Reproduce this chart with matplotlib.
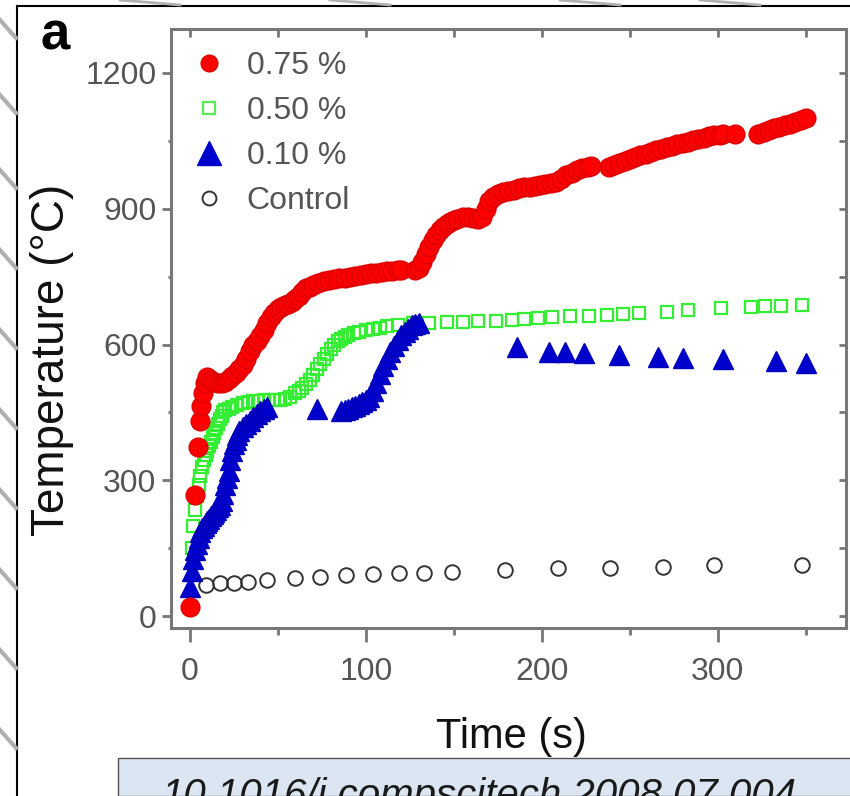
import matplotlib
matplotlib.use("Agg")
import matplotlib.pyplot as plt
from matplotlib.lines import Line2D
from matplotlib.patches import Rectangle

plt.rcParams['font.family'] = ['Liberation Sans', 'DejaVu Sans']

# 0.75 % loading
red_t = [0, 2.8, 4.5, 5.5, 6.5, 7.5, 8.5, 10, 12, 14, 16, 18, 20, 22, 24, 26, 28, 30,
         32, 34, 36, 38, 40, 42, 44, 46, 48, 50, 52, 54, 56, 58, 60, 62, 64, 66, 68, 70,
         73, 76, 79, 82, 85, 88, 91, 94, 97, 100, 103, 106, 109, 112, 115, 118, 120,
         128, 130, 132, 134, 136, 138, 140, 142, 144, 146, 148, 150, 152, 155, 158, 161,
         164, 166, 168, 170, 172, 175, 178, 181, 184, 187, 190, 193, 196, 199, 202, 205,
         208, 211, 214, 217, 220, 223, 226, 228, 238, 241, 244, 247, 250, 253, 256, 259,
         262, 265, 268, 271, 274, 277, 280, 283, 286, 289, 292, 295, 298, 301, 303, 310,
         323, 326, 329, 332, 335, 338, 341, 344, 347, 350]
red_v = [20, 267, 374, 432, 465, 492, 515, 528, 522, 518, 516, 516, 518, 524, 530, 538, 546, 555,
         568, 585, 598, 608, 618, 632, 648, 660, 670, 678, 683, 688, 690, 693, 700, 708, 716, 724, 728, 732,
         736, 740, 742, 744, 746, 748, 750, 752, 753, 755, 757, 758, 760, 762, 763, 764, 765,
         765, 768, 782, 800, 815, 830, 843, 853, 860, 866, 871, 875, 878, 881, 881, 880,
         878, 882, 900, 918, 927, 932, 936, 939, 942, 945, 947, 949, 951, 953, 955, 957,
         960, 966, 974, 980, 985, 989, 992, 994, 993, 996, 1000, 1005, 1010, 1014, 1018, 1022,
         1026, 1030, 1033, 1036, 1039, 1042, 1045, 1048, 1051, 1054, 1057, 1060, 1062, 1064, 1065, 1066,
         1065, 1070, 1074, 1078, 1081, 1084, 1088, 1092, 1096, 1100]

# 0.50 % loading
green_t = [1, 2, 3, 4, 5, 6, 7, 8, 9, 10, 11, 12, 13, 14, 15, 16, 17, 18, 19, 20, 22, 24,
           27, 30, 33, 36, 39, 42, 45, 48, 51, 54, 57, 60, 62, 64, 66, 68, 70, 72, 74, 76,
           78, 80, 82, 84, 86, 88, 90, 93, 96, 100, 104, 108, 112, 118, 127, 136, 146, 155,
           164, 174, 183, 190, 198, 206, 216, 227, 237, 246, 255, 271, 283, 302, 319, 327,
           336, 348]
green_v = [150, 200, 235, 265, 290, 310, 330, 345, 355, 365, 375, 385, 395, 405, 415, 425, 435, 443, 450, 455, 458, 462,
           466, 470, 473, 475, 476, 477, 477, 478, 478, 480, 485, 492, 498, 504, 512, 522, 533, 545, 556, 568,
           580, 590, 600, 607, 612, 617, 621, 625, 628, 631, 634, 637, 640, 643, 647, 648, 649, 650,
           652, 653, 655, 656, 658, 660, 662, 664, 666, 668, 670, 672, 676, 681, 683, 684,
           685, 688]

# 0.10 % loading
blue_t = [0, 1, 2, 3, 4, 5, 6, 7, 8, 9, 10, 11, 12, 13, 14, 15, 16, 17, 18, 19, 20, 21, 22,
          23, 24, 25, 26, 27, 28, 30, 32, 34, 36, 38, 40, 42, 44, 72, 86, 88, 90, 92, 94, 96,
          98, 100, 102, 104, 106, 108, 110, 112, 114, 116, 118, 120, 122, 124, 126, 128, 130,
          186, 204, 213, 224, 244, 266, 280, 303, 333, 350]
blue_v = [65, 100, 125, 145, 160, 172, 185, 195, 200, 205, 210, 215, 220, 225, 230, 235, 240, 245, 255, 270, 290, 305, 320,
          345, 365, 380, 390, 400, 408, 418, 425, 432, 440, 447, 453, 458, 462, 457, 452, 455, 458, 462, 465, 468,
          472, 477, 485, 498, 515, 535, 552, 568, 583, 597, 610, 620, 628, 635, 642, 646, 647,
          594, 583, 583, 581, 577, 572, 570, 568, 564, 559]

# control
ctrl_t = [9, 17, 25, 33, 44, 60, 74, 89, 104, 119, 133, 149, 179, 209, 239, 269, 298, 348]
ctrl_v = [68, 72, 74, 76, 80, 85, 87, 90, 93, 95, 95, 97, 102, 106, 106, 108, 113, 113]

labels = ['0.75 %', '0.50 %', '0.10 %', 'Control']
grey = '#777777'

fig = plt.figure(figsize=(8.5, 7.96), dpi=100)
ax = fig.add_axes([0.201, 0.211, 0.794, 0.7525])

ax.plot(ctrl_t, ctrl_v, 'o', ms=10.5, mfc='none', mec='#333333', mew=1.4)
ax.plot(green_t, green_v, 's', ms=9, mfc='none', mec='#33ee33', mew=1.6)
ax.plot(blue_t, blue_v, '^', ms=15, color='#0000cc', mec='#0000bb')
ax.plot(red_t, red_v, 'o', ms=13.5, color='#ff0000', mec='#dd0000')

ax.set_xlim(-10.8, 372.7)
ax.set_ylim(-26.5, 1297)
ax.set_xticks([0, 100, 200, 300])
ax.set_xticks([50, 150, 250, 350], minor=True)
ax.set_yticks([0, 300, 600, 900, 1200])
ax.set_yticks([150, 450, 750, 1050], minor=True)

for s in ax.spines.values():
    s.set_color(grey)
    s.set_linewidth(2.2)

ax.tick_params(which='both', direction='out', colors=grey, width=2,
               labelcolor='#555555', labelsize=23)
ax.tick_params(axis='x', which='major', length=10, pad=11)
ax.tick_params(axis='x', which='minor', length=5)
ax.tick_params(axis='y', which='major', length=6.5, pad=4)
ax.tick_params(axis='y', which='minor', length=2.5)

# inward ticks on the top and right edges
top = ax.secondary_xaxis('top')
top.set_xticks([0, 100, 200, 300])
top.set_xticks([50, 150, 250, 350], minor=True)
top.tick_params(which='both', direction='in', length=6, width=2, colors=grey, labeltop=False)
right = ax.secondary_yaxis('right')
right.set_yticks([0, 300, 600, 900, 1200])
right.set_yticks([150, 450, 750, 1050], minor=True)
right.tick_params(which='both', direction='in', length=5, width=2, colors=grey, labelright=False)
for sec in (top, right):
    for s in sec.spines.values():
        s.set_visible(False)

handles = [
    Line2D([], [], ls='none', marker='o', ms=12, color='#ff0000', mec='#dd0000'),
    Line2D([], [], ls='none', marker='s', ms=8, mfc='none', mec='#55ee55', mew=1.6),
    Line2D([], [], ls='none', marker='^', ms=17, color='#0000cc'),
    Line2D([], [], ls='none', marker='o', ms=10, mfc='none', mec='#333333', mew=1.4),
]
ax.legend(handles, labels, loc='upper left', bbox_to_anchor=(0.0326, 0.963),
          frameon=False, fontsize=23, labelcolor='#555555', handlelength=1.0,
          handletextpad=0.69, labelspacing=0.47, borderpad=0, borderaxespad=0)

fig.text(52 / 850, 1 - 360 / 796, 'Temperature (°C)', rotation=90, fontsize=33,
         ha='center', va='center', color='#111111')
fig.text(511 / 850, 1 - 748 / 796, 'Time (s)', ha='center', va='baseline',
         fontsize=30, color='#111111')
fig.text(40 / 850, 1 - 50 / 796, 'a', fontsize=38, fontweight='bold', va='baseline')

# outer frame
fig.add_artist(Line2D([17 / 850, 17 / 850], [0, 1 - 6 / 796], color='black', lw=1.5))
fig.add_artist(Line2D([17 / 850, 1], [1 - 6 / 796, 1 - 6 / 796], color='black', lw=1.5))

# grey strokes in the margins
for y0 in [20, 95, 170, 250, 330, 410, 490, 570, 650, 730]:
    fig.add_artist(Line2D([0, 16 / 850], [1 - y0 / 796, 1 - (y0 + 18) / 796],
                          color='#b0b0b0', lw=3))
for x0 in [120, 330, 560, 700]:
    fig.add_artist(Line2D([x0 / 850, (x0 + 60) / 850], [1, 1 - 5 / 796],
                          color='#b0b0b0', lw=2))

# doi banner, its text runs past the bottom edge
fig.add_artist(Rectangle((118 / 850, 0), 1, 38 / 796, transform=fig.transFigure,
                         fc='#dce6f2', ec='#555555', lw=1))
fig.text(162 / 850, 1 - 807 / 796, '10.1016/j.compscitech.2008.07.004', fontsize=29,
         fontstyle='italic', color='#1a1a1a', va='baseline')

fig.savefig('out.png', dpi=100)
